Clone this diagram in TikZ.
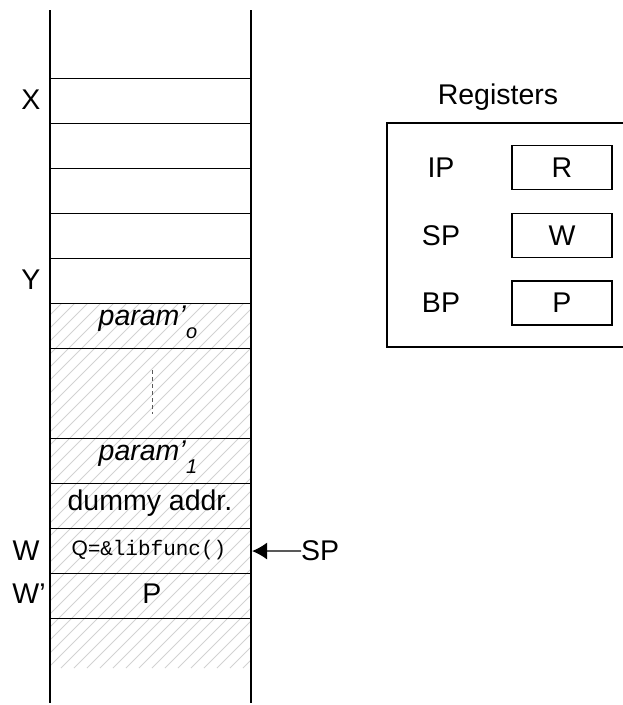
\documentclass[tikz,border=0pt]{standalone}
\usepackage{fontspec}
\setmainfont{Liberation Sans}
\setmonofont{Liberation Mono}
\usetikzlibrary{arrows.meta}
\newcommand{\sq}{{\char"27}}
\begin{document}
\begin{tikzpicture}[x=1pt,y=-1pt,
  lw/.style={line width=1.1pt},
  cell/.style={lw,draw,minimum width=201pt,minimum height=45pt,inner sep=0pt,anchor=north west},
  lbl/.style={inner sep=0pt,font=\fontsize{28.5}{34}\selectfont},
  regbox/.style={lw,draw,minimum width=100pt,minimum height=44pt,inner sep=0pt,font=\fontsize{28.5}{34}\selectfont}]
\useasboundingbox (0,0) rectangle (623,705);
% hatching
\begin{scope}
  \clip (50,303) rectangle (251,668);
  \foreach \a in {-420,-407,...,260}
    \draw[gray!35,line width=0.8pt] (\a,668) -- ++(420,-420);
\end{scope}
% column sides
\coordinate (tl) at (50,10);
\coordinate (bl) at (50,703);
\coordinate (tr) at (251,10);
\coordinate (br) at (251,703);
\draw[lw] (tl) -- (bl);
\draw[lw] (tr) -- (br);
% cells
\node[cell] (c1) at (50,78) {};
\node[cell] (c2) at (50,123) {};
\node[cell] (c3) at (50,168) {};
\node[cell] (c4) at (50,213) {};
\node[cell] (c5) at (50,258) {};
\node[cell] (c6) at (50,303) {};
\node[cell,minimum height=90pt] (c7) at (50,348) {};
\node[cell] (c8) at (50,438) {};
\node[cell] (c9) at (50,483) {};
\node[cell] (cw) at (50,528) {};
\node[cell] (cwp) at (50,573) {};
% cell texts
\node[lbl] (p0) at (148,322) {\textit{param\sq}\raisebox{-0.45em}{\fontsize{20}{24}\selectfont\textit{o}}};
\coordinate (dtop) at (152,370);
\coordinate (dbot) at (152,414);
\draw[gray!70!black,line width=1pt,dash pattern=on 4pt off 3pt] (dtop) -- (dbot);
\node[lbl] (p1) at (148,457) {\textit{param\sq}\raisebox{-0.45em}{\fontsize{20}{24}\selectfont\textit{1}}};
\node[lbl] (dummy) at (150,503) {dummy addr.};
\node[inner sep=0pt,font=\fontsize{21}{25}\selectfont] (q) at (149,550) {\rmfamily Q=\texttt{\&libfunc()}};
\node[lbl] (pp) at (152,594) {P};
% side labels
\node[lbl] (lx) at (31,100) {X};
\node[lbl] (ly) at (31,280) {Y};
\node[lbl] (lw) at (26,551) {W};
\node[lbl] (lwp) at (29,594) {W\sq};
% SP arrow
\node[lbl,anchor=west] (sp) at (301,551) {SP};
\draw[lw,-{Latex[length=15pt,width=17pt]}] (sp.west) -- (cw.east);
% registers
\node[lbl] (reg) at (498,97) {Registers};
\coordinate (r1) at (623,123);
\coordinate (r2) at (387,123);
\coordinate (r3) at (387,347);
\coordinate (r4) at (623,347);
\draw[lw] (r1) -- (r2) -- (r3) -- (r4);
\node[lbl] (ip) at (441,168) {IP};
\node[lbl] (spr) at (441,236) {SP};
\node[lbl] (bp) at (441,303) {BP};
\node[regbox] (rv) at (562,167.5) {R};
\node[regbox] (wv) at (562,235.5) {W};
\node[regbox] (pv) at (562,303) {P};
\end{tikzpicture}
\end{document}
